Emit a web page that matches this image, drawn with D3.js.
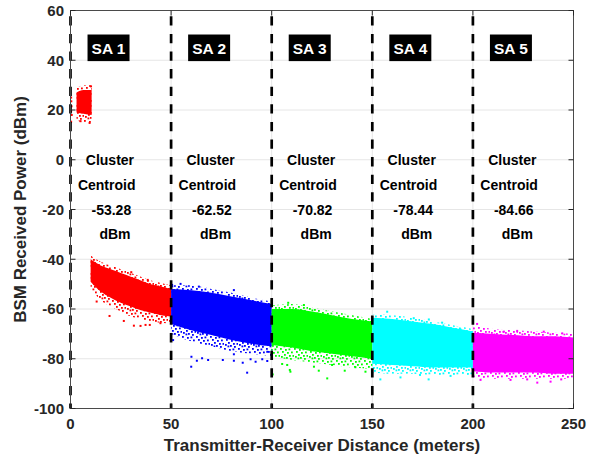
<!DOCTYPE html>
<html><head><meta charset="utf-8">
<script src="https://cdn.jsdelivr.net/npm/d3@7"></script>
<style>
html,body{margin:0;padding:0;background:#fff;}
svg{display:block;font-family:"Liberation Sans",Arial,Helvetica,sans-serif;}
</style>
</head><body>
<svg id="chart" width="593" height="456"></svg>
<script>
// ---- data ----
const xTicks = [0, 50, 100, 150, 200, 250];
const yTicks = [60, 40, 20, 0, -20, -40, -60, -80, -100];
const boundaries = [0, 50, 100, 150, 200];
const saLabels = ["SA 1", "SA 2", "SA 3", "SA 4", "SA 5"];
const saStart = [0, 50, 100, 150, 200];
const centroids = ["-53.28", "-62.52", "-70.82", "-78.44", "-84.66"];
const clusterColors = ["#ff0000", "#0000ff", "#00ff00", "#00ffff", "#ff00ff"];

// SA1 near cluster (high power, 3-10 m)
const nearDist    = [3, 6.5, 10.5];
const nearUpper   = [29, 30, 30];
const nearCoreTop = [27, 28, 28];
const nearCoreBot = [19, 18.5, 18];
const nearLower   = [16, 15, 15];
const nearOutliers = [[0.3, 25], [0.4, 23.5], [0.5, 21.5], [0.3, 19.5], [0.6, 18], [0.3, 15.3], [9.5, 14.8], [5, 15.5], [10.2, 29.5]];

// SA1 (red)
const redDist    = [10, 15, 20, 25, 30, 35, 40, 45, 50];
const redUpper   = [-38.5, -41, -42.5, -44, -45.5, -47, -48.5, -49.5, -50.5];
const redCoreTop = [-40, -42.5, -44, -45.5, -47, -48.5, -50, -51, -52];
const redCoreBot = [-49, -53, -55.5, -57.5, -59, -60.5, -61.5, -62.5, -63];
const redLower   = [-52, -56.5, -59, -61, -63, -64, -65, -65.5, -66];
const redOutliers = [[19.4, -62.8], [26.5, -64.8], [31.5, -66.7], [34.8, -66.8], [37.3, -66.4], [39.4, -66.4], [44.7, -65.7], [13, -57], [30.2, -45.2], [38.4, -48.3]];

// SA2 (blue)
const blueDist    = [50, 60, 70, 80, 90, 100];
const blueUpper   = [-50.5, -50.5, -52, -53.5, -55.5, -57];
const blueCoreTop = [-52, -52.5, -53.5, -55, -56.5, -58];
const blueCoreBot = [-66, -68.5, -70.5, -72.5, -74, -75];
const blueLower   = [-70, -73, -75, -77, -78, -79];
const blueOutliers = [[60.1, -79.2], [62.8, -80.8], [60, -83.2], [65.4, -79.8], [68.4, -80.5], [75.7, -80.5], [81.2, -78.2], [85.6, -81.6], [89.5, -80.2], [92, -81.2], [95.3, -80.2], [97.8, -77.2], [87.8, -85.6], [81.2, -80.8], [97.8, -80.9], [50.5, -50.3], [54.7, -49.9], [63.8, -51], [81.2, -52.4], [51, -72.5]];

// SA3 (green)
const greenDist    = [100, 110, 120, 130, 140, 150];
const greenUpper   = [-58.5, -58, -59.5, -61, -62.5, -64];
const greenCoreTop = [-60, -60, -61, -62.5, -64, -65];
const greenCoreBot = [-74.5, -75.5, -77, -78, -79, -80];
const greenLower   = [-79, -80.5, -81.5, -82.5, -83.5, -84];
const greenOutliers = [[108.2, -57.5], [116, -58.4], [109, -84.5], [123.4, -84.8], [127.6, -87.9], [136.3, -84.8], [100.5, -86.3], [105.2, -82.1], [130, -82.5], [141.6, -83.4], [146.6, -85.2], [109.3, -85.2], [107.7, -82.5], [121, -83.2]];

// SA4 (cyan)
const cyanDist    = [150, 160, 170, 180, 190, 200];
const cyanUpper   = [-62, -62.5, -63.5, -65, -66.5, -68];
const cyanCoreTop = [-63.5, -64, -65, -66, -67.5, -69];
const cyanCoreBot = [-82, -82.5, -83, -83.5, -83.5, -83.5];
const cyanLower   = [-85.5, -86, -86, -86.5, -86.5, -86.5];
const cyanOutliers = [[154, -88.3], [164, -87.5], [178, -88.3], [188.9, -86.9], [173.7, -86.5], [157.4, -61.1], [170.6, -63.7], [178.1, -64.2], [184.7, -65.5], [193.8, -68.2]];

// SA5 (magenta)
const magDist    = [200, 210, 220, 230, 240, 250];
const magUpper   = [-66.5, -68, -68.5, -69, -69.5, -70];
const magCoreTop = [-69.5, -70, -70.5, -71, -71, -71.5];
const magCoreBot = [-85, -85.5, -85.5, -85.5, -86, -86];
const magLower   = [-87.5, -88, -88, -88, -88, -88];
const magOutliers = [[202.1, -66], [215.4, -69.1], [222, -68.8], [235.2, -69.1], [244.4, -69.8], [203.8, -88.5], [218.7, -88.5], [232, -89.6], [238.6, -89.2], [243.9, -88.3], [227, -88.3]];

// ---- build ----
function band(dist, upper, coreTop, coreBot, lower) {
  return dist.map((d, i) => ({d, up: upper[i], ct: coreTop[i], cb: coreBot[i], lo: lower[i]}));
}
const clusters = [
  {color: 0, pts: band(nearDist, nearUpper, nearCoreTop, nearCoreBot, nearLower), out: nearOutliers},
  {color: 0, pts: band(redDist, redUpper, redCoreTop, redCoreBot, redLower), out: redOutliers},
  {color: 1, pts: band(blueDist, blueUpper, blueCoreTop, blueCoreBot, blueLower), out: blueOutliers},
  {color: 2, pts: band(greenDist, greenUpper, greenCoreTop, greenCoreBot, greenLower), out: greenOutliers},
  {color: 3, pts: band(cyanDist, cyanUpper, cyanCoreTop, cyanCoreBot, cyanLower), out: cyanOutliers},
  {color: 4, pts: band(magDist, magUpper, magCoreTop, magCoreBot, magLower), out: magOutliers}
];

const svg = d3.select("#chart");
const x = d3.scaleLinear().domain([0, 250]).range([70.5, 573.5]);
const y = d3.scaleLinear().domain([-100, 60]).range([408.5, 10.5]);
const axisColor = "#262626";

const defs = svg.append("defs");
defs.append("clipPath").attr("id", "plotclip").append("rect")
  .attr("x", x(0)).attr("y", y(60)).attr("width", x(250) - x(0)).attr("height", y(-100) - y(60));
// texture tile for the sparse fringe of each cloud (a style, not data)
const tileDots = [[0, 0], [5, 1], [8.5, 0.5], [2, 3], [7, 4], [4, 6], [9, 7], [1, 8], [6, 9], [3.5, 9.5], [11, 3.5], [10, 10], [12.5, 7]];
clusterColors.forEach((c, i) => {
  const p = defs.append("pattern").attr("id", "dots" + i)
    .attr("patternUnits", "userSpaceOnUse").attr("width", 14).attr("height", 12);
  tileDots.forEach(([px, py]) =>
    p.append("rect").attr("x", px).attr("y", py).attr("width", 1.8).attr("height", 1.8).attr("fill", c));
});

// grid
const grid = svg.append("g");
grid.selectAll("line.h").data(yTicks.filter(t => t !== 60 && t !== -100)).join("line")
  .attr("x1", x(0)).attr("x2", x(250)).attr("y1", d => y(d)).attr("y2", d => y(d))
  .attr("stroke", "#e6e6e6").attr("stroke-width", 1);
grid.selectAll("line.v").data(xTicks.filter(t => t !== 0 && t !== 250)).join("line")
  .attr("x1", d => x(d)).attr("x2", d => x(d)).attr("y1", y(60)).attr("y2", y(-100))
  .attr("stroke", "#e6e6e6").attr("stroke-width", 1);

// clusters
const plot = svg.append("g").attr("clip-path", "url(#plotclip)");
const outer = d3.area().x(d => x(d.d)).y0(d => y(d.lo)).y1(d => y(d.up)).curve(d3.curveMonotoneX);
const core = d3.area().x(d => x(d.d)).y0(d => y(d.cb)).y1(d => y(d.ct)).curve(d3.curveMonotoneX);
clusters.forEach(cl => {
  const col = clusterColors[cl.color];
  plot.append("path").attr("d", outer(cl.pts)).attr("fill", "url(#dots" + cl.color + ")");
  plot.append("path").attr("d", core(cl.pts)).attr("fill", col);
  plot.selectAll(null).data(cl.out).join("rect")
    .attr("x", d => x(d[0]) - 1).attr("y", d => y(d[1]) - 1)
    .attr("width", 2).attr("height", 2).attr("fill", col);
});

// dashed boundaries
svg.append("g").selectAll("line").data(boundaries).join("line")
  .attr("x1", d => x(d)).attr("x2", d => x(d)).attr("y1", y(60)).attr("y2", y(-100))
  .attr("stroke", "#000").attr("stroke-width", 2.7)
  .attr("stroke-dasharray", "9.3,8.3").attr("stroke-dashoffset", 11.8);

// frame
const frame = svg.append("g");
frame.append("rect").attr("x", x(0)).attr("y", y(60)).attr("width", x(250) - x(0)).attr("height", y(-100) - y(60))
  .attr("fill", "none").attr("stroke", "#4a4a4a").attr("stroke-width", 1);
frame.selectAll("line.yl").data(yTicks).join("line")
  .attr("x1", x(0)).attr("x2", x(0) + 5).attr("y1", d => y(d)).attr("y2", d => y(d))
  .attr("stroke", axisColor);
frame.selectAll("line.yr").data(yTicks).join("line")
  .attr("x1", x(250)).attr("x2", x(250) - 5).attr("y1", d => y(d)).attr("y2", d => y(d))
  .attr("stroke", axisColor);
frame.selectAll("line.xb").data(xTicks).join("line")
  .attr("x1", d => x(d)).attr("x2", d => x(d)).attr("y1", y(-100)).attr("y2", y(-100) - 5)
  .attr("stroke", axisColor);
frame.selectAll("line.xt").data(xTicks).join("line")
  .attr("x1", d => x(d)).attr("x2", d => x(d)).attr("y1", y(60)).attr("y2", y(60) + 5)
  .attr("stroke", axisColor);

// tick labels
svg.append("g").selectAll("text").data(yTicks).join("text")
  .attr("x", 64).attr("y", d => y(d) + 5.4).attr("text-anchor", "end")
  .attr("font-size", 15).attr("font-weight", "bold").attr("fill", axisColor).text(d => d);
svg.append("g").selectAll("text").data(xTicks).join("text")
  .attr("x", d => x(d)).attr("y", 429).attr("text-anchor", "middle")
  .attr("font-size", 15).attr("font-weight", "bold").attr("fill", axisColor).text(d => d);

// axis titles
svg.append("text").attr("x", (x(0) + x(250)) / 2).attr("y", 451).attr("text-anchor", "middle")
  .attr("font-size", 17).attr("font-weight", "bold").attr("fill", axisColor)
  .text("Transmitter-Receiver Distance (meters)");
svg.append("text").attr("transform", `translate(26,${(y(60) + y(-100)) / 2}) rotate(-90)`)
  .attr("text-anchor", "middle").attr("font-size", 17).attr("font-weight", "bold").attr("fill", axisColor)
  .text("BSM Received Power (dBm)");

// SA labels
const lab = svg.append("g");
saLabels.forEach((s, i) => {
  const cx = x(saStart[i] + 18.9);
  const cy = y(45);
  lab.append("rect").attr("x", cx - 21).attr("y", cy - 13.3).attr("width", 42).attr("height", 26.6).attr("fill", "#000");
  lab.append("text").attr("x", cx).attr("y", cy + 5.8).attr("text-anchor", "middle")
    .attr("font-size", 15.5).attr("font-weight", "bold").attr("fill", "#fff").text(s);
});

// centroid annotations
const annLines = [
  {t: () => "Cluster", off: 19.6, v: 0},
  {t: () => "Centroid", off: 18.0, v: -10},
  {t: i => centroids[i], off: 20.3, v: -20},
  {t: () => "dBm", off: 22.1, v: -30}
];
saStart.forEach((s, i) => {
  annLines.forEach(l => {
    lab.append("text").attr("x", x(s + l.off)).attr("y", y(l.v) + 5)
      .attr("text-anchor", "middle").attr("font-size", 14).attr("font-weight", "bold")
      .attr("fill", "#000").text(l.t(i));
  });
});
</script>
</body></html>
